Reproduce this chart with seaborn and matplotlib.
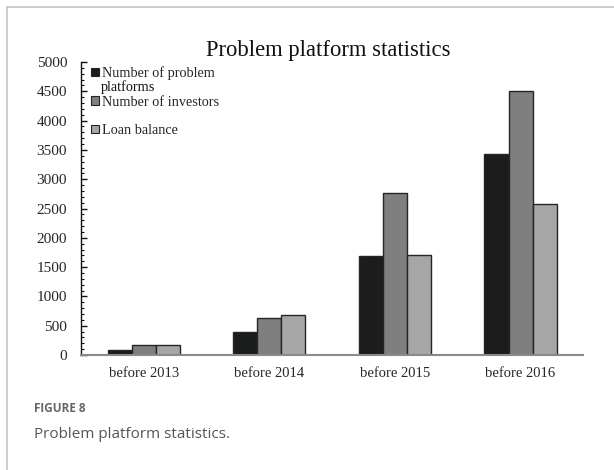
import pandas as pd
import numpy as np
import seaborn as sns
import matplotlib.pyplot as plt
from matplotlib.patches import Patch
from matplotlib.lines import Line2D
from matplotlib.ticker import MultipleLocator

periods = ["before 2013", "before 2014", "before 2015", "before 2016"]
series = ["Number of problem platforms", "Number of investors", "Loan balance"]
problem_platforms = [90, 390, 1685, 3425]
investors = [165, 637, 2770, 4510]
loan_balance = [170, 688, 1712, 2582]
colors = ["#1b1c1c", "#7f7f7f", "#a6a6a6"]

df = pd.DataFrame({
    "period": periods * 3,
    "series": [series[0]] * 4 + [series[1]] * 4 + [series[2]] * 4,
    "value": problem_platforms + investors + loan_balance,
})

sns.set_style("white")
plt.rcParams["font.family"] = ["Liberation Serif", "DejaVu Serif"]

fig = plt.figure(figsize=(6.14, 4.70), dpi=100)
ax = fig.add_axes([0.132, 0.2447, 0.818, 0.6233])

sns.barplot(data=df, x="period", y="value", hue="series", palette=colors,
            width=0.574, gap=0, edgecolor="#252525", linewidth=1.0,
            saturation=1, legend=False, ax=ax)

ax.set_xlim(-0.5, 3.5)
ax.set_ylim(0, 5000)
ax.yaxis.set_major_locator(MultipleLocator(500))
ax.yaxis.set_minor_locator(MultipleLocator(100))
ax.tick_params(axis="y", which="major", direction="in", length=4, width=1,
               color="#111111", labelsize=11, pad=10, left=True)
ax.tick_params(axis="y", which="minor", direction="in", length=2.5, width=0.8,
               color="#111111", left=True)
ax.tick_params(axis="x", length=0, labelsize=10.5, pad=9)
ax.set_xlabel("")
ax.set_ylabel("")
for s in ["top", "right"]:
    ax.spines[s].set_visible(False)
ax.spines["left"].set_color("#111111")
ax.spines["left"].set_linewidth(1.0)
ax.spines["bottom"].set_color("#8a8a8a")
ax.spines["bottom"].set_linewidth(1.5)
ax.text(0.492, 1.021, "Problem platform statistics", transform=ax.transAxes,
        fontsize=16.3, ha="center", va="baseline", color="#111111")

# legend: first label wrapped to a second line as in the source
handles = [Patch(facecolor=c, edgecolor="#252525", linewidth=0.8) for c in colors]
labels = ["Number of problem", series[1], series[2]]
leg = ax.legend(handles, labels, loc="upper left", bbox_to_anchor=(0.008, 1.005),
                frameon=False, fontsize=10.3, handlelength=0.55, handleheight=0.55,
                handletextpad=0.2, labelspacing=1.08, borderaxespad=0)
ax.text(0.039, 0.916, "platforms", transform=ax.transAxes, fontsize=10.3,
        va="center", ha="left", color="#111111")

# outer frame and caption
fig.add_artist(Line2D([7 / 614, 1.0], [1 - 7 / 470, 1 - 7 / 470], color="#c4c4c4", lw=1.2))
fig.add_artist(Line2D([7 / 614, 7 / 614], [0, 1 - 7 / 470], color="#c4c4c4", lw=1.2))
fig.text(34 / 614, 1 - 408 / 470, "FIGURE 8", fontsize=8.5, fontweight="bold",
         color="#666666", family="Open Sans", va="center")
fig.text(34 / 614, 1 - 434 / 470, "Problem platform statistics.", fontsize=11,
         color="#555555", family="Open Sans", va="center")

fig.savefig("out.png", dpi=100)
